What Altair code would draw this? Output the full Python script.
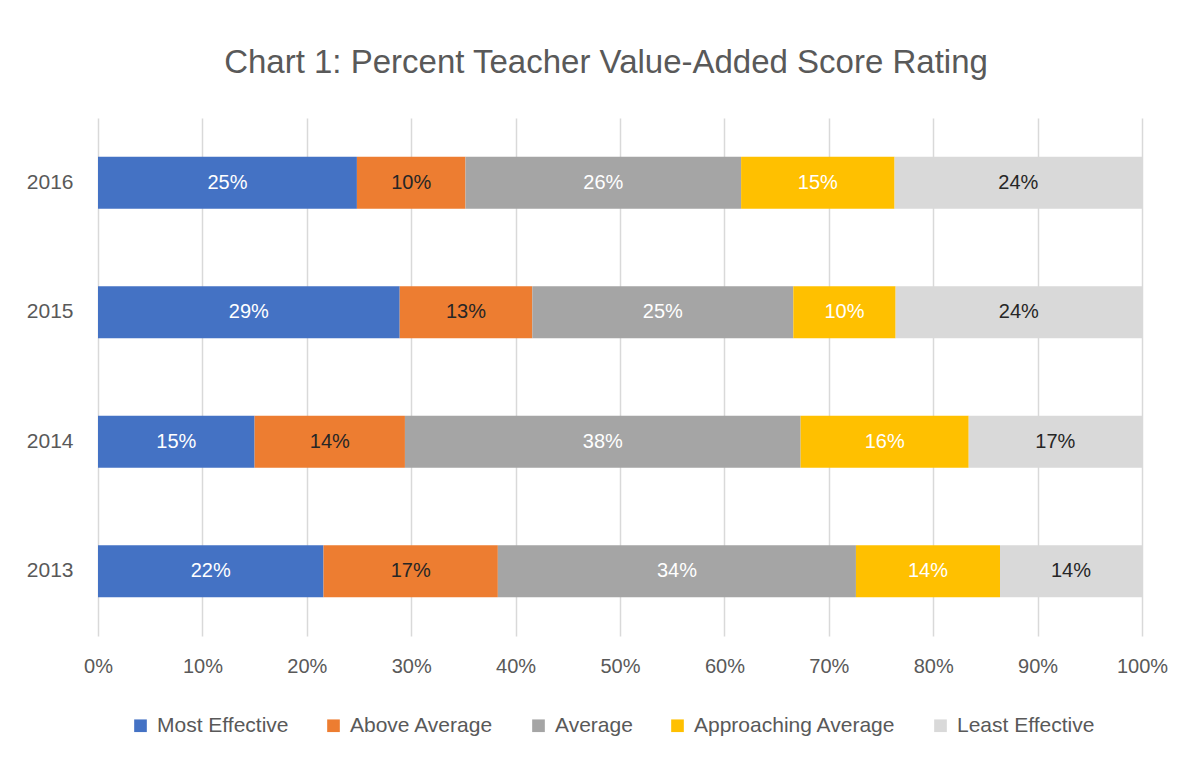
import altair as alt
import pandas as pd

years = ["2016", "2015", "2014", "2013"]
categories = ["Most Effective", "Above Average", "Average", "Approaching Average", "Least Effective"]
colors = ["#4472C4", "#ED7D31", "#A5A5A5", "#FFC000", "#D9D9D9"]

most_effective = [24.8, 28.9, 15.0, 21.6]
above_average = [10.4, 12.7, 14.4, 16.7]
average = [26.4, 25.0, 37.9, 34.3]
approaching_average = [14.7, 9.8, 16.1, 13.8]
least_effective = [23.7, 23.6, 16.6, 13.6]

series = [most_effective, above_average, average, approaching_average, least_effective]
x_ticks = list(range(0, 101, 10))

rows = []
for i, yr in enumerate(years):
    for j, (cat, vals) in enumerate(zip(categories, series)):
        rows.append({"year": yr, "category": cat, "idx": j, "value": vals[i]})
df = pd.DataFrame(rows)

FONT = "Liberation Sans"
GREY = "#595959"

base = alt.Chart(df).transform_stack(
    stack="value",
    groupby=["year"],
    as_=["x0", "x1"],
    sort=[alt.SortField("idx", order="ascending")],
).transform_calculate(
    mid="(datum.x0 + datum.x1) / 2",
    label="format(datum.value, '.0f') + '%'",
)

y_enc = alt.Y(
    "year:N",
    sort=years,
    scale=alt.Scale(paddingInner=0.6, paddingOuter=0.3),
    axis=alt.Axis(
        title=None, domain=False, ticks=False, grid=False,
        labelPadding=25, labelFontSize=21, labelColor=GREY, labelFont=FONT,
    ),
)

bars = base.mark_bar().encode(
    x=alt.X(
        "x0:Q",
        scale=alt.Scale(domain=[0, 100], nice=False),
        axis=alt.Axis(
            values=x_ticks, labelExpr="datum.value + '%'", title=None,
            domain=False, ticks=False, grid=True, gridColor="#D9D9D9", gridWidth=1.5,
            labelFlush=False, labelOverlap=False,
            labelPadding=20, labelFontSize=20, labelColor=GREY, labelFont=FONT,
        ),
    ),
    x2="x1:Q",
    y=y_enc,
    color=alt.Color(
        "category:N",
        scale=alt.Scale(domain=categories, range=colors),
        legend=alt.Legend(
            orient="none", legendX=32, legendY=597, direction="horizontal",
            title=None, symbolType="square", symbolSize=160, symbolStrokeWidth=0,
            symbolOpacity=1, labelFontSize=21, labelColor=GREY, labelFont=FONT,
            labelLimit=400, columnPadding=34, labelOffset=6,
        ),
    ),
)

text = base.mark_text(fontSize=20, font=FONT, align="center", baseline="middle").encode(
    x=alt.X("mid:Q"),
    y=alt.Y("year:N", sort=years),
    text="label:N",
    color=alt.condition(
        "datum.category == 'Above Average' || datum.category == 'Least Effective'",
        alt.value("#262626"),
        alt.value("#FFFFFF"),
    ),
)

chart = alt.layer(bars, text).properties(
    width=1044,
    height=518,
    title=alt.TitleParams(
        "Chart 1: Percent Teacher Value-Added Score Rating",
        fontSize=33, font=FONT, color=GREY, fontWeight="normal",
        anchor="middle", dx=-14, offset=38,
    ),
    autosize=alt.AutoSizeParams(type="none"),
    padding={"left": 90, "top": 110, "right": 52, "bottom": 119},
    background="white",
).configure_view(stroke=None)

chart.save("out.html", embed_options={"renderer": "svg", "actions": False})
